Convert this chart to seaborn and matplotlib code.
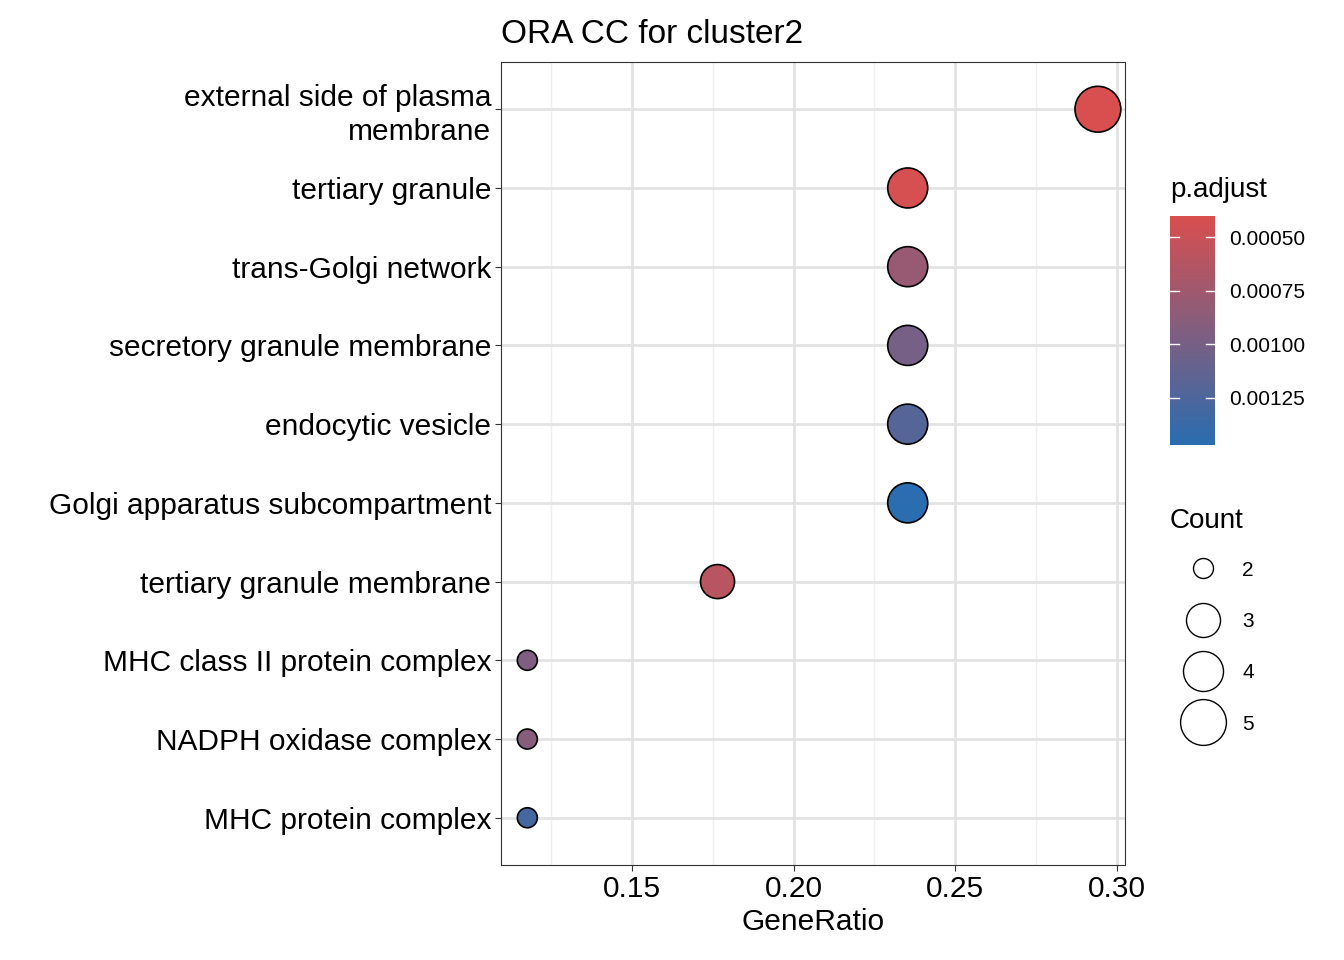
import seaborn as sns
import matplotlib.pyplot as plt
import pandas as pd
import numpy as np
from matplotlib.colors import LinearSegmentedColormap, Normalize
from matplotlib.lines import Line2D

terms = ['external side of plasma\nmembrane', 'tertiary granule', 'trans-Golgi network',
         'secretory granule membrane', 'endocytic vesicle', 'Golgi apparatus subcompartment',
         'tertiary granule membrane', 'MHC class II protein complex', 'NADPH oxidase complex',
         'MHC protein complex']
gene_ratio = [5/17, 4/17, 4/17, 4/17, 4/17, 4/17, 3/17, 2/17, 2/17, 2/17]
counts = [5, 4, 4, 4, 4, 4, 3, 2, 2, 2]
p_adjust = [0.00040, 0.00042, 0.00080, 0.00100, 0.00120, 0.00147, 0.00060, 0.00095, 0.00090, 0.00130]

df = pd.DataFrame({'term': terms, 'GeneRatio': gene_ratio, 'Count': counts, 'p.adjust': p_adjust})

plt.rcParams['font.family'] = ['Liberation Sans', 'DejaVu Sans']
cmap = LinearSegmentedColormap.from_list('rb', ['#D94F4F', '#2A6DB0'])
norm = Normalize(0.000402, 0.001469)
size_map = {2: 207, 3: 600, 4: 830, 5: 1089}

fig = plt.figure(figsize=(13.44, 9.6), dpi=100)
ax = fig.add_axes([501/1344, 1 - 865/960, 624/1344, 803/960])
df['y'] = np.arange(len(df))
ax.set_axisbelow(True)
sns.scatterplot(data=df, x='GeneRatio', y='y', hue='p.adjust', hue_norm=norm, palette=cmap,
                size='Count', sizes=size_map, edgecolor='black', linewidth=1.2,
                legend=False, ax=ax, zorder=3)
ax.set_xlim(0.1095, 0.3025)
ax.set_ylim(len(df) - 0.4, -0.6)
ax.set_yticks(df['y'])
ax.set_yticklabels(terms, fontsize=21.5, linespacing=1.25)
ax.set_xticks([0.15, 0.20, 0.25, 0.30])
ax.set_xticklabels(['0.15', '0.20', '0.25', '0.30'], fontsize=21.5)
ax.set_xticks([0.125, 0.175, 0.225, 0.275], minor=True)
ax.grid(True, which='major', color='#E3E3E3', linewidth=2)
ax.grid(True, which='minor', axis='x', color='#EFEFEF', linewidth=1)
ax.tick_params(which='minor', length=0)
ax.tick_params(which='major', length=4, color='#333333', pad=3)
ax.set_xlabel('GeneRatio', fontsize=21.5, labelpad=4)
ax.set_ylabel('')
for s in ax.spines.values():
    s.set_color('#333333')
ax.set_title('ORA CC for cluster2', fontsize=24, loc='left', pad=14, x=0)

cax = fig.add_axes([1170/1344, 1 - 445/960, 45/1344, 229/960])
grad = np.linspace(0.000402, 0.001469, 256).reshape(-1, 1)
cax.imshow(grad, aspect='auto', cmap=cmap, norm=norm, extent=[0, 1, 0.001469, 0.000402])
cax.set_ylim(0.001469, 0.000402)
cax.yaxis.tick_right()
cax.set_yticks([0.0005, 0.00075, 0.001, 0.00125])
cax.set_yticklabels(['0.00050', '0.00075', '0.00100', '0.00125'], fontsize=15)
cax.tick_params(axis='y', length=0, pad=10)
for t in [0.0005, 0.00075, 0.001, 0.00125]:
    cax.plot([0, 0.2], [t, t], color='white', lw=1)
    cax.plot([0.8, 1], [t, t], color='white', lw=1)
cax.set_xticks([])
for s in cax.spines.values():
    s.set_visible(False)
fig.text(1170/1344, 1 - 190/960, 'p.adjust', fontsize=20, va='center')

fig.text(1170/1344, 1 - 521/960, 'Count', fontsize=20, va='center')
handles = [Line2D([], [], marker='o', ls='', markersize=np.sqrt(size_map[c]),
                  markerfacecolor='white', markeredgecolor='black') for c in [2, 3, 4, 5]]
fig.legend(handles, ['2', '3', '4', '5'], loc='upper left', bbox_to_anchor=(1163/1344, 1 - 542/960),
           frameon=False, fontsize=15, labelspacing=1.55, handletextpad=0.9)

fig.savefig('out.png', dpi=100)
